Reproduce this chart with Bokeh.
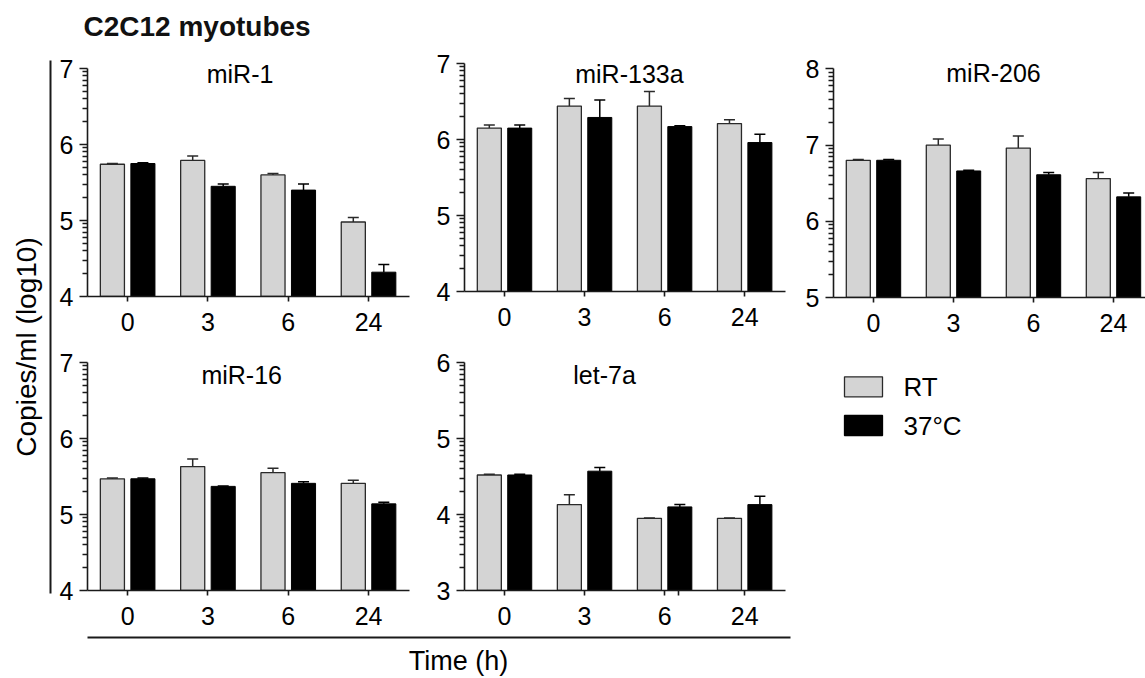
import math
from bokeh.plotting import figure
from bokeh.models import (Range1d, FixedTicker, Whisker, TeeHead, ColumnDataSource, Label)
from bokeh.layouts import row, column
from bokeh.embed import file_html
from bokeh.resources import INLINE
from bokeh.core.properties import value

# ---------------- data ----------------
times = ["0", "3", "6", "24"]
conditions = ["RT", "37°C"]
panel_names = ["miR-1", "miR-133a", "miR-206", "miR-16", "let-7a"]
y_min = [4, 4, 5, 4, 3]

mir1_rt = [5.74, 5.79, 5.60, 4.98]
mir1_rt_err = [0.01, 0.06, 0.02, 0.06]
mir1_37 = [5.75, 5.45, 5.40, 4.32]
mir1_37_err = [0.01, 0.03, 0.08, 0.10]

mir133a_rt = [6.15, 6.44, 6.44, 6.21]
mir133a_rt_err = [0.04, 0.10, 0.19, 0.05]
mir133a_37 = [6.15, 6.29, 6.17, 5.96]
mir133a_37_err = [0.04, 0.23, 0.01, 0.11]

mir206_rt = [6.80, 7.00, 6.96, 6.56]
mir206_rt_err = [0.01, 0.08, 0.16, 0.08]
mir206_37 = [6.80, 6.66, 6.61, 6.32]
mir206_37_err = [0.01, 0.01, 0.03, 0.05]

mir16_rt = [5.47, 5.63, 5.55, 5.41]
mir16_rt_err = [0.01, 0.10, 0.06, 0.04]
mir16_37 = [5.47, 5.37, 5.41, 5.14]
mir16_37_err = [0.01, 0.005, 0.02, 0.02]

let7a_rt = [4.52, 4.13, 3.95, 3.95]
let7a_rt_err = [0.01, 0.13, 0.005, 0.005]
let7a_37 = [4.52, 4.57, 4.10, 4.13]
let7a_37_err = [0.01, 0.05, 0.03, 0.11]

series = [
    (mir1_rt, mir1_rt_err, mir1_37, mir1_37_err),
    (mir133a_rt, mir133a_rt_err, mir133a_37, mir133a_37_err),
    (mir206_rt, mir206_rt_err, mir206_37, mir206_37_err),
    (mir16_rt, mir16_rt_err, mir16_37, mir16_37_err),
    (let7a_rt, let7a_rt_err, let7a_37, let7a_37_err),
]

# stray unlabeled x tick visible in the let-7a panel of the original
extra_x_ticks = [[], [], [], [], [2.17]]

# ---------------- style ----------------
FONT = "Liberation Sans"
RT_FILL = "#d4d4d4"
EDGE = "#2a2a2a"
HOT_FILL = "#000000"
AXIS_W = 1.6
BAR_W = 0.30
OFFS = 0.19

# geometry (page pixels):
# (fig_top, width, height, b_left, b_right, b_top, b_bottom, y_of_top_tick, x_end, title_x, title_y)
geom = [
    (44, 378, 296, 35, 21, 18, 44, 68.0, 3.51, 1.40, 73.3),
    (44, 370, 296, 34, 15, 18, 49, 63.0, 3.51, 1.56, 73.3),
    (44, 345, 296, 33, 0, 18, 43, 68.3, 3.40, 1.50, 72.5),
    (340, 378, 294, 35, 21, 22, 44, 362.0, 3.51, 1.42, 374.2),
    (340, 370, 294, 34, 15, 22, 44, 362.0, 3.51, 1.25, 374.2),
]


def no_align(p):
    if "frame_align" in p.properties():
        p.frame_align = False


def make_panel(i):
    name = panel_names[i]
    lo = y_min[i]
    rt, rt_err, hot, hot_err = series[i]
    ftop, w, h, bl, br, bt, bb, ytick_top, xend, tx, ty = geom[i]
    frame_top = ftop + bt
    frame_bot = ftop + h - bb          # page y of value `lo`
    ppu = (frame_bot - ytick_top) / 3.0
    y_end = lo + (frame_bot - frame_top) / ppu
    p = figure(width=w, height=h, output_backend="svg", toolbar_location=None,
               x_range=Range1d(-0.5, xend), y_range=Range1d(lo, y_end),
               min_border_left=bl, min_border_right=br, min_border_top=bt,
               min_border_bottom=bb)
    no_align(p)
    p.title.visible = False
    p.outline_line_color = None
    p.grid.visible = False
    p.background_fill_color = "white"
    p.border_fill_color = "white"

    xs = list(range(len(times)))
    src_rt = ColumnDataSource(dict(x=[x - OFFS for x in xs], top=rt,
                                   upper=[a + b for a, b in zip(rt, rt_err)]))
    src_hot = ColumnDataSource(dict(x=[x + OFFS for x in xs], top=hot,
                                    upper=[a + b for a, b in zip(hot, hot_err)]))
    p.vbar(x="x", top="top", bottom=lo, width=BAR_W, source=src_rt,
           fill_color=RT_FILL, line_color=EDGE, line_width=1.3)
    p.vbar(x="x", top="top", bottom=lo, width=BAR_W, source=src_hot,
           fill_color=HOT_FILL, line_color="black", line_width=1.0)
    for src, col in ((src_rt, EDGE), (src_hot, "black")):
        wk = Whisker(source=src, base="x", lower="top", upper="upper",
                     line_color=col, line_width=1.5,
                     upper_head=TeeHead(size=11, line_color=col, line_width=1.5),
                     lower_head=None, level="overlay")
        p.add_layout(wk)

    # axes
    minor = []
    for d in range(lo, lo + 3):
        minor += [d + math.log10(k) for k in range(2, 10)]
    yax = p.yaxis[0]
    yax.ticker = FixedTicker(ticks=list(range(lo, lo + 4)), minor_ticks=minor)
    yax.bounds = (lo, lo + 3)
    yax.major_tick_out = 8
    yax.major_tick_in = 0
    yax.minor_tick_out = 5
    yax.minor_tick_in = 0
    yax.major_label_standoff = 6
    xax = p.xaxis[0]
    xax.ticker = FixedTicker(ticks=xs + extra_x_ticks[i])
    overrides = {x: t for x, t in zip(xs, times)}
    for t in extra_x_ticks[i]:
        overrides[t] = ""
    xax.major_label_overrides = overrides
    xax.major_tick_out = 5
    xax.major_tick_in = 0
    xax.minor_tick_out = 0
    xax.minor_tick_in = 0
    xax.major_label_standoff = 11
    for ax in (xax, yax):
        ax.axis_line_width = AXIS_W
        ax.axis_line_color = "#1a1a1a"
        ax.major_tick_line_width = AXIS_W
        ax.major_tick_line_color = "#1a1a1a"
        ax.minor_tick_line_width = 1.3
        ax.minor_tick_line_color = "#1a1a1a"
        ax.major_label_text_font = FONT
        ax.major_label_text_font_size = "25px"
        ax.major_label_text_color = "black"

    p.add_layout(Label(x=tx, y=lo + (frame_bot - ty) / ppu, text=name,
                       text_align="center", text_baseline="middle",
                       text_font=FONT, text_font_size="25px",
                       text_color="black"))
    return p


panels = [make_panel(i) for i in range(5)]


def blank(w, h):
    # page-pixel coordinate strip: x = page x offset, y measured upward from strip bottom
    f = figure(width=w, height=h, output_backend="svg", toolbar_location=None,
               x_range=Range1d(0, w), y_range=Range1d(0, h),
               x_axis_location=None, y_axis_location=None, min_border=0)
    no_align(f)
    f.title.visible = False
    f.outline_line_color = None
    f.grid.visible = False
    f.border_fill_color = "white"
    f.background_fill_color = "white"
    return f


# top title strip (page y 0..44)
top = blank(1145, 44)
top.text(x=[83], y=[44 - 25.9], text=["C2C12 myotubes"], text_font=value(FONT),
         text_font_size="28px", text_font_style="bold", text_color="#111111",
         text_baseline="middle", text_align="left")

# left strip (page y 44..634)
left = blank(52, 590)
left.segment(x0=[50], y0=[634 - 60], x1=[50], y1=[634 - 593], line_color="#1a1a1a",
             line_width=2)
left.text(x=[26], y=[634 - 346.5], text=["Copies/ml (log10)"], angle=math.pi / 2,
          text_font=value(FONT), text_font_size="28px", text_color="black",
          text_align="center", text_baseline="middle")

# bottom strip (page y 634..678)
bottom = blank(1145, 44)
bottom.segment(x0=[87], y0=[678 - 637], x1=[790], y1=[678 - 637],
               line_color="#1a1a1a", line_width=2)
bottom.text(x=[458], y=[678 - 660.8], text=["Time (h)"], text_font=value(FONT),
            text_font_size="27px", text_color="black", text_align="center",
            text_baseline="middle")

# legend panel (page x 800..1145, y 340..634)
leg = blank(345, 294)
key_fill = [RT_FILL, HOT_FILL]
key_line = [EDGE, "black"]
key_cy = [634 - 386.3, 634 - 425.0]          # strip coordinates of the key rows
leg.rect(x=[63, 63], y=key_cy, width=38, height=20, fill_color=key_fill,
         line_color=key_line, line_width=1.3)
leg.text(x=[103, 103], y=key_cy, text=conditions, text_font=value(FONT),
         text_font_size="26px", text_color="black", text_align="left",
         text_baseline="middle")

grid = column(
    top,
    row(left,
        column(row(panels[0], panels[1], panels[2]),
               row(panels[3], panels[4], leg))),
    bottom,
)

open("out.html", "w").write(file_html(grid, INLINE))
